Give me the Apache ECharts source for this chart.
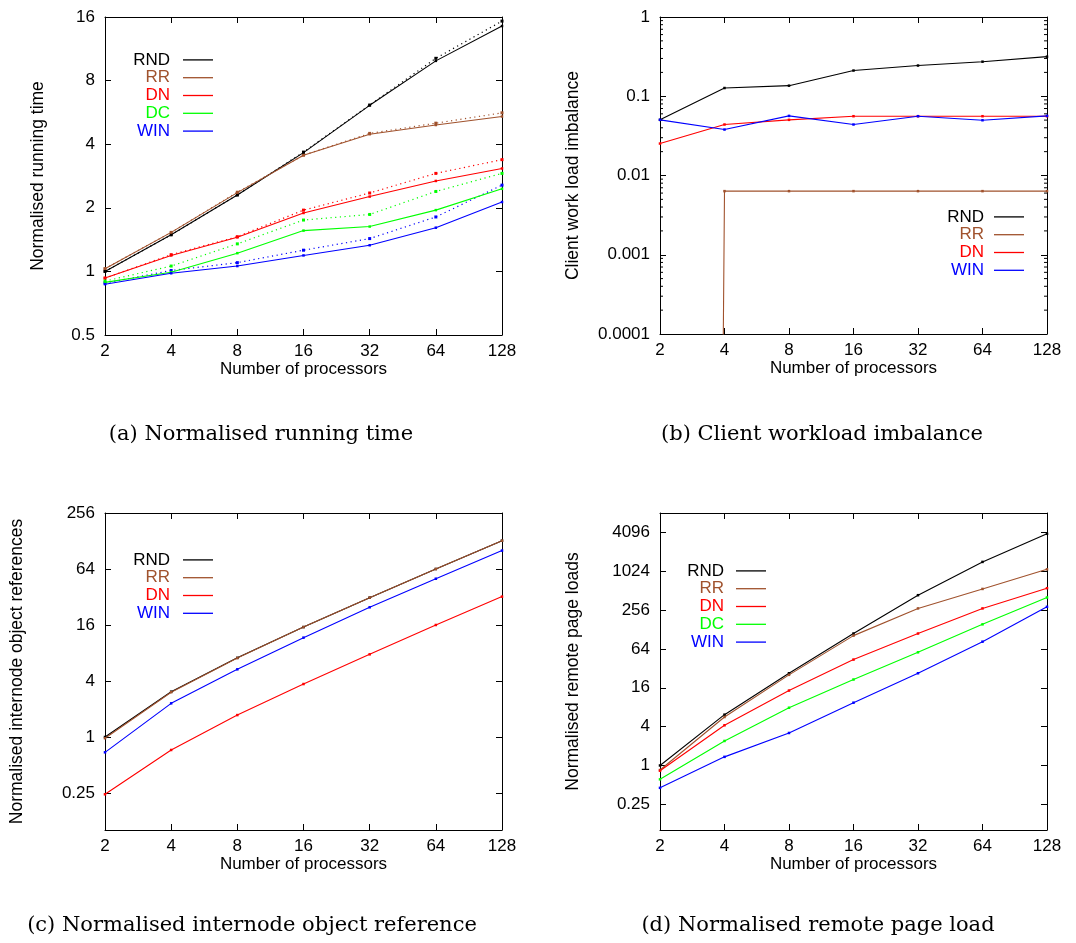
<!DOCTYPE html>
<html>
<head>
<meta charset="utf-8">
<script src="https://cdn.jsdelivr.net/npm/echarts@6/dist/echarts.min.js"></script>
<style>html,body{margin:0;padding:0;background:#fff;}#c{width:1076px;height:943px;}</style>
</head>
<body>
<div id="c"></div>
<script>
// ---- data ----
const procs = [2, 4, 8, 16, 32, 64, 128];
const xTickLabels = ['2', '4', '8', '16', '32', '64', '128'];

// (a) Normalised running time (solid and dotted runs)
const timeRND = [1.0, 1.49, 2.30, 3.65, 6.11, 9.92, 14.5];
const timeRR  = [1.03, 1.53, 2.36, 3.55, 4.46, 4.93, 5.41];
const timeDN  = [0.93, 1.19, 1.45, 1.89, 2.26, 2.68, 3.07];
const timeDC  = [0.887, 0.99, 1.22, 1.56, 1.63, 1.95, 2.46];
const timeWIN = [0.87, 0.98, 1.06, 1.19, 1.33, 1.61, 2.13];
const timeRNDdot = [1.0, 1.49, 2.30, 3.67, 6.13, 10.2, 15.3];
const timeRRdot  = [1.03, 1.53, 2.37, 3.55, 4.50, 5.03, 5.63];
const timeDNdot  = [0.93, 1.20, 1.46, 1.95, 2.35, 2.91, 3.38];
const timeDCdot  = [0.90, 1.06, 1.35, 1.75, 1.86, 2.39, 2.91];
const timeWINdot = [0.88, 1.01, 1.10, 1.26, 1.43, 1.81, 2.56];
const timeTicks = ['0.5', '1', '2', '4', '8', '16'];

// (b) Client workload imbalance (RR is effectively zero at 2 processors)
const imbRND = [0.0504, 0.127, 0.136, 0.211, 0.244, 0.273, 0.316];
const imbRR  = [1e-100, 0.00635, 0.00635, 0.00635, 0.00635, 0.00635, 0.00635];
const imbDN  = [0.0253, 0.044, 0.0504, 0.056, 0.056, 0.056, 0.056];
const imbWIN = [0.0504, 0.038, 0.0565, 0.044, 0.056, 0.0498, 0.0565];
const imbTicks = ['0.0001', '0.001', '0.01', '0.1', '1'];
const imbMinorTicks = [2e-4,3e-4,4e-4,5e-4,6e-4,7e-4,8e-4,9e-4,
                       2e-3,3e-3,4e-3,5e-3,6e-3,7e-3,8e-3,9e-3,
                       2e-2,3e-2,4e-2,5e-2,6e-2,7e-2,8e-2,9e-2,
                       0.2,0.3,0.4,0.5,0.6,0.7,0.8,0.9];

// (c) Normalised internode object references
const refRND = [1.0, 3.07, 7.1, 15.2, 31.5, 64, 129];
const refRR  = [0.97, 3.03, 7.05, 15.2, 31.5, 64, 129];
const refDN  = [0.242, 0.725, 1.72, 3.71, 7.74, 16, 32.3];
const refWIN = [0.684, 2.3, 5.34, 11.7, 24.8, 50.3, 101];
const refTicks = ['0.25', '1', '4', '16', '64', '256'];

// (d) Normalised remote page loads
const pageRND = [1.0, 6.13, 26.9, 111, 436, 1430, 3900];
const pageRR  = [0.85, 5.64, 25.4, 103, 272, 545, 1098];
const pageDN  = [0.83, 4.2, 14.5, 43.8, 111, 272, 560];
const pageDC  = [0.61, 2.40, 7.85, 21.5, 56.8, 154, 402];
const pageWIN = [0.45, 1.36, 3.19, 9.4, 26.9, 83, 288];
const pageTicks = ['0.25', '1', '4', '16', '64', '256', '1024', '4096'];

const captions = ['(a) Normalised running time', '(b) Client workload imbalance',
                  '(c) Normalised internode object reference', '(d) Normalised remote page load'];

// ---- styling ----
const COL = {RND: '#000000', RR: '#a0522d', DN: '#ff0000', DC: '#00ff00', WIN: '#0000ff'};
const FONT = '"Liberation Sans", Arial, Helvetica, sans-serif';

function pairs(ys) { return procs.map((x, i) => [x, ys[i]]); }
function fmt(list) {
  return function (v) {
    const s = String(+(+v).toPrecision(6));
    return list.indexOf(s) >= 0 ? s : '';
  };
}

const grids = [
  {left: 105, top: 17, width: 397, height: 318},
  {left: 660, top: 17, width: 387, height: 317},
  {left: 105, top: 513, width: 397, height: 317},
  {left: 660, top: 513, width: 387, height: 317}
];
const yCfg = [
  {min: 0.5, max: 16, base: 2, ticks: timeTicks, name: 'Normalised running time', gap: 58},
  {min: 0.0001, max: 1, base: 10, ticks: imbTicks, name: 'Client work load imbalance', gap: 78},
  {min: 0.1, max: 256, base: 4, ticks: refTicks, name: 'Normalised internode object references', gap: 79},
  {min: 0.1, max: 8192, base: 4, ticks: pageTicks, name: 'Normalised remote page loads', gap: 78}
];

const xAxis = [], yAxis = [];
grids.forEach((g, i) => {
  xAxis.push({
    type: 'log', logBase: 2, min: 2, max: 128, gridIndex: i, position: 'bottom',
    name: 'Number of processors', nameLocation: 'middle', nameGap: 23,
    nameTextStyle: {fontFamily: FONT, fontSize: 17, color: '#000'},
    axisLine: {lineStyle: {color: '#000', width: 1}},
    axisTick: {inside: true, length: 6, lineStyle: {color: '#000'}},
    axisLabel: {fontFamily: FONT, fontSize: 17, color: '#000', margin: 8, formatter: fmt(xTickLabels)},
    splitLine: {show: false}
  });
  xAxis.push({
    type: 'log', logBase: 2, min: 2, max: 128, gridIndex: i, position: 'top',
    axisLine: {lineStyle: {color: '#000', width: 1}},
    axisTick: {inside: true, length: 6, lineStyle: {color: '#000'}},
    axisLabel: {show: false}, splitLine: {show: false}
  });
  const c = yCfg[i];
  yAxis.push({
    type: 'log', logBase: c.base, min: c.min, max: c.max, gridIndex: i, position: 'left',
    name: c.name, nameLocation: 'middle', nameGap: c.gap, nameRotate: 90,
    nameTextStyle: {fontFamily: FONT, fontSize: 17.5, color: '#000'},
    axisLine: {lineStyle: {color: '#000', width: 1}},
    axisTick: {inside: true, length: 6, lineStyle: {color: '#000'}},
    axisLabel: {fontFamily: FONT, fontSize: 17, color: '#000', margin: 10, formatter: fmt(c.ticks)},
    splitLine: {show: false}
  });
  yAxis.push({
    type: 'log', logBase: c.base, min: c.min, max: c.max, gridIndex: i, position: 'right',
    axisLine: {lineStyle: {color: '#000', width: 1}},
    axisTick: {inside: true, length: 6, lineStyle: {color: '#000'}},
    axisLabel: {show: false}, splitLine: {show: false}
  });
});

function line(name, ys, gi, color, dotted) {
  return {
    type: 'line', name: name, xAxisIndex: 2 * gi, yAxisIndex: 2 * gi,
    data: pairs(ys), symbol: 'rect', symbolSize: dotted ? 3 : 2.5,
    itemStyle: {color: color},
    lineStyle: {color: color, width: dotted ? 1.2 : 1.1, type: dotted ? [1.2, 3.5] : 'solid'},
    silent: true, animation: false, clip: true, z: dotted ? 2 : 3
  };
}

const series = [
  line('a_RND', timeRND, 0, COL.RND), line('a_RR', timeRR, 0, COL.RR),
  line('a_DN', timeDN, 0, COL.DN), line('a_DC', timeDC, 0, COL.DC), line('a_WIN', timeWIN, 0, COL.WIN),
  line('a_RND_d', timeRNDdot, 0, COL.RND, true), line('a_RR_d', timeRRdot, 0, COL.RR, true),
  line('a_DN_d', timeDNdot, 0, COL.DN, true), line('a_DC_d', timeDCdot, 0, COL.DC, true),
  line('a_WIN_d', timeWINdot, 0, COL.WIN, true),
  line('b_RND', imbRND, 1, COL.RND), line('b_RR', imbRR, 1, COL.RR),
  line('b_DN', imbDN, 1, COL.DN), line('b_WIN', imbWIN, 1, COL.WIN),
  line('c_RND', refRND, 2, COL.RND), line('c_RR', refRR, 2, COL.RR),
  line('c_DN', refDN, 2, COL.DN), line('c_WIN', refWIN, 2, COL.WIN),
  line('d_RND', pageRND, 3, COL.RND), line('d_RR', pageRR, 3, COL.RR),
  line('d_DN', pageDN, 3, COL.DN), line('d_DC', pageDC, 3, COL.DC), line('d_WIN', pageWIN, 3, COL.WIN),
  {
    type: 'custom', name: 'minor', xAxisIndex: 2, yAxisIndex: 2, silent: true, animation: false,
    data: imbMinorTicks.map(v => [2, v]),
    renderItem: function (params, api) {
      const cs = params.coordSys;
      const y = api.coord([2, api.value(1)])[1];
      return {type: 'group', children: [
        {type: 'line', shape: {x1: cs.x, y1: y, x2: cs.x + 3, y2: y}, style: {stroke: '#000', lineWidth: 1}},
        {type: 'line', shape: {x1: cs.x + cs.width - 3, y1: y, x2: cs.x + cs.width, y2: y}, style: {stroke: '#000', lineWidth: 1}}
      ]};
    }
  }
];

function legend(prefix, keys, right, top, padRight) {
  return {
    orient: 'vertical', align: 'right', right: right, top: top, padding: 0,
    itemWidth: 30, itemHeight: 1.3, itemGap: 0, icon: 'rect',
    selectedMode: false,
    textStyle: {fontFamily: FONT, fontSize: 17, lineHeight: 17.8, padding: [0, padRight, 0, 0]},
    data: keys.map(k => ({name: prefix + k, itemStyle: {color: COL[k]}, textStyle: {color: COL[k]}})),
    formatter: n => n.split('_')[1]
  };
}

const option = {
  backgroundColor: '#fff',
  animation: false,
  grid: grids.map(g => Object.assign({containLabel: false}, g)),
  xAxis: xAxis, yAxis: yAxis,
  legend: [
    legend('a_', ['RND', 'RR', 'DN', 'DC', 'WIN'], 863, 51, 8),
    legend('b_', ['RND', 'RR', 'DN', 'WIN'], 52, 208, 5),
    legend('c_', ['RND', 'RR', 'DN', 'WIN'], 863, 551, 8),
    legend('d_', ['RND', 'RR', 'DN', 'DC', 'WIN'], 310, 562, 7)
  ],
  graphic: [
    [261, 435], [822, 435], [252, 926], [818, 926]
  ].map((p, i) => ({
    type: 'text', x: p[0], y: p[1], silent: true,
    style: {text: captions[i], fontFamily: '"DejaVu Serif", serif', fontSize: 21, fill: '#000',
            align: 'center', verticalAlign: 'middle'}
  })),
  series: series
};

const chart = echarts.init(document.getElementById('c'), null, {renderer: 'canvas'});
chart.setOption(option);
</script>
</body>
</html>
